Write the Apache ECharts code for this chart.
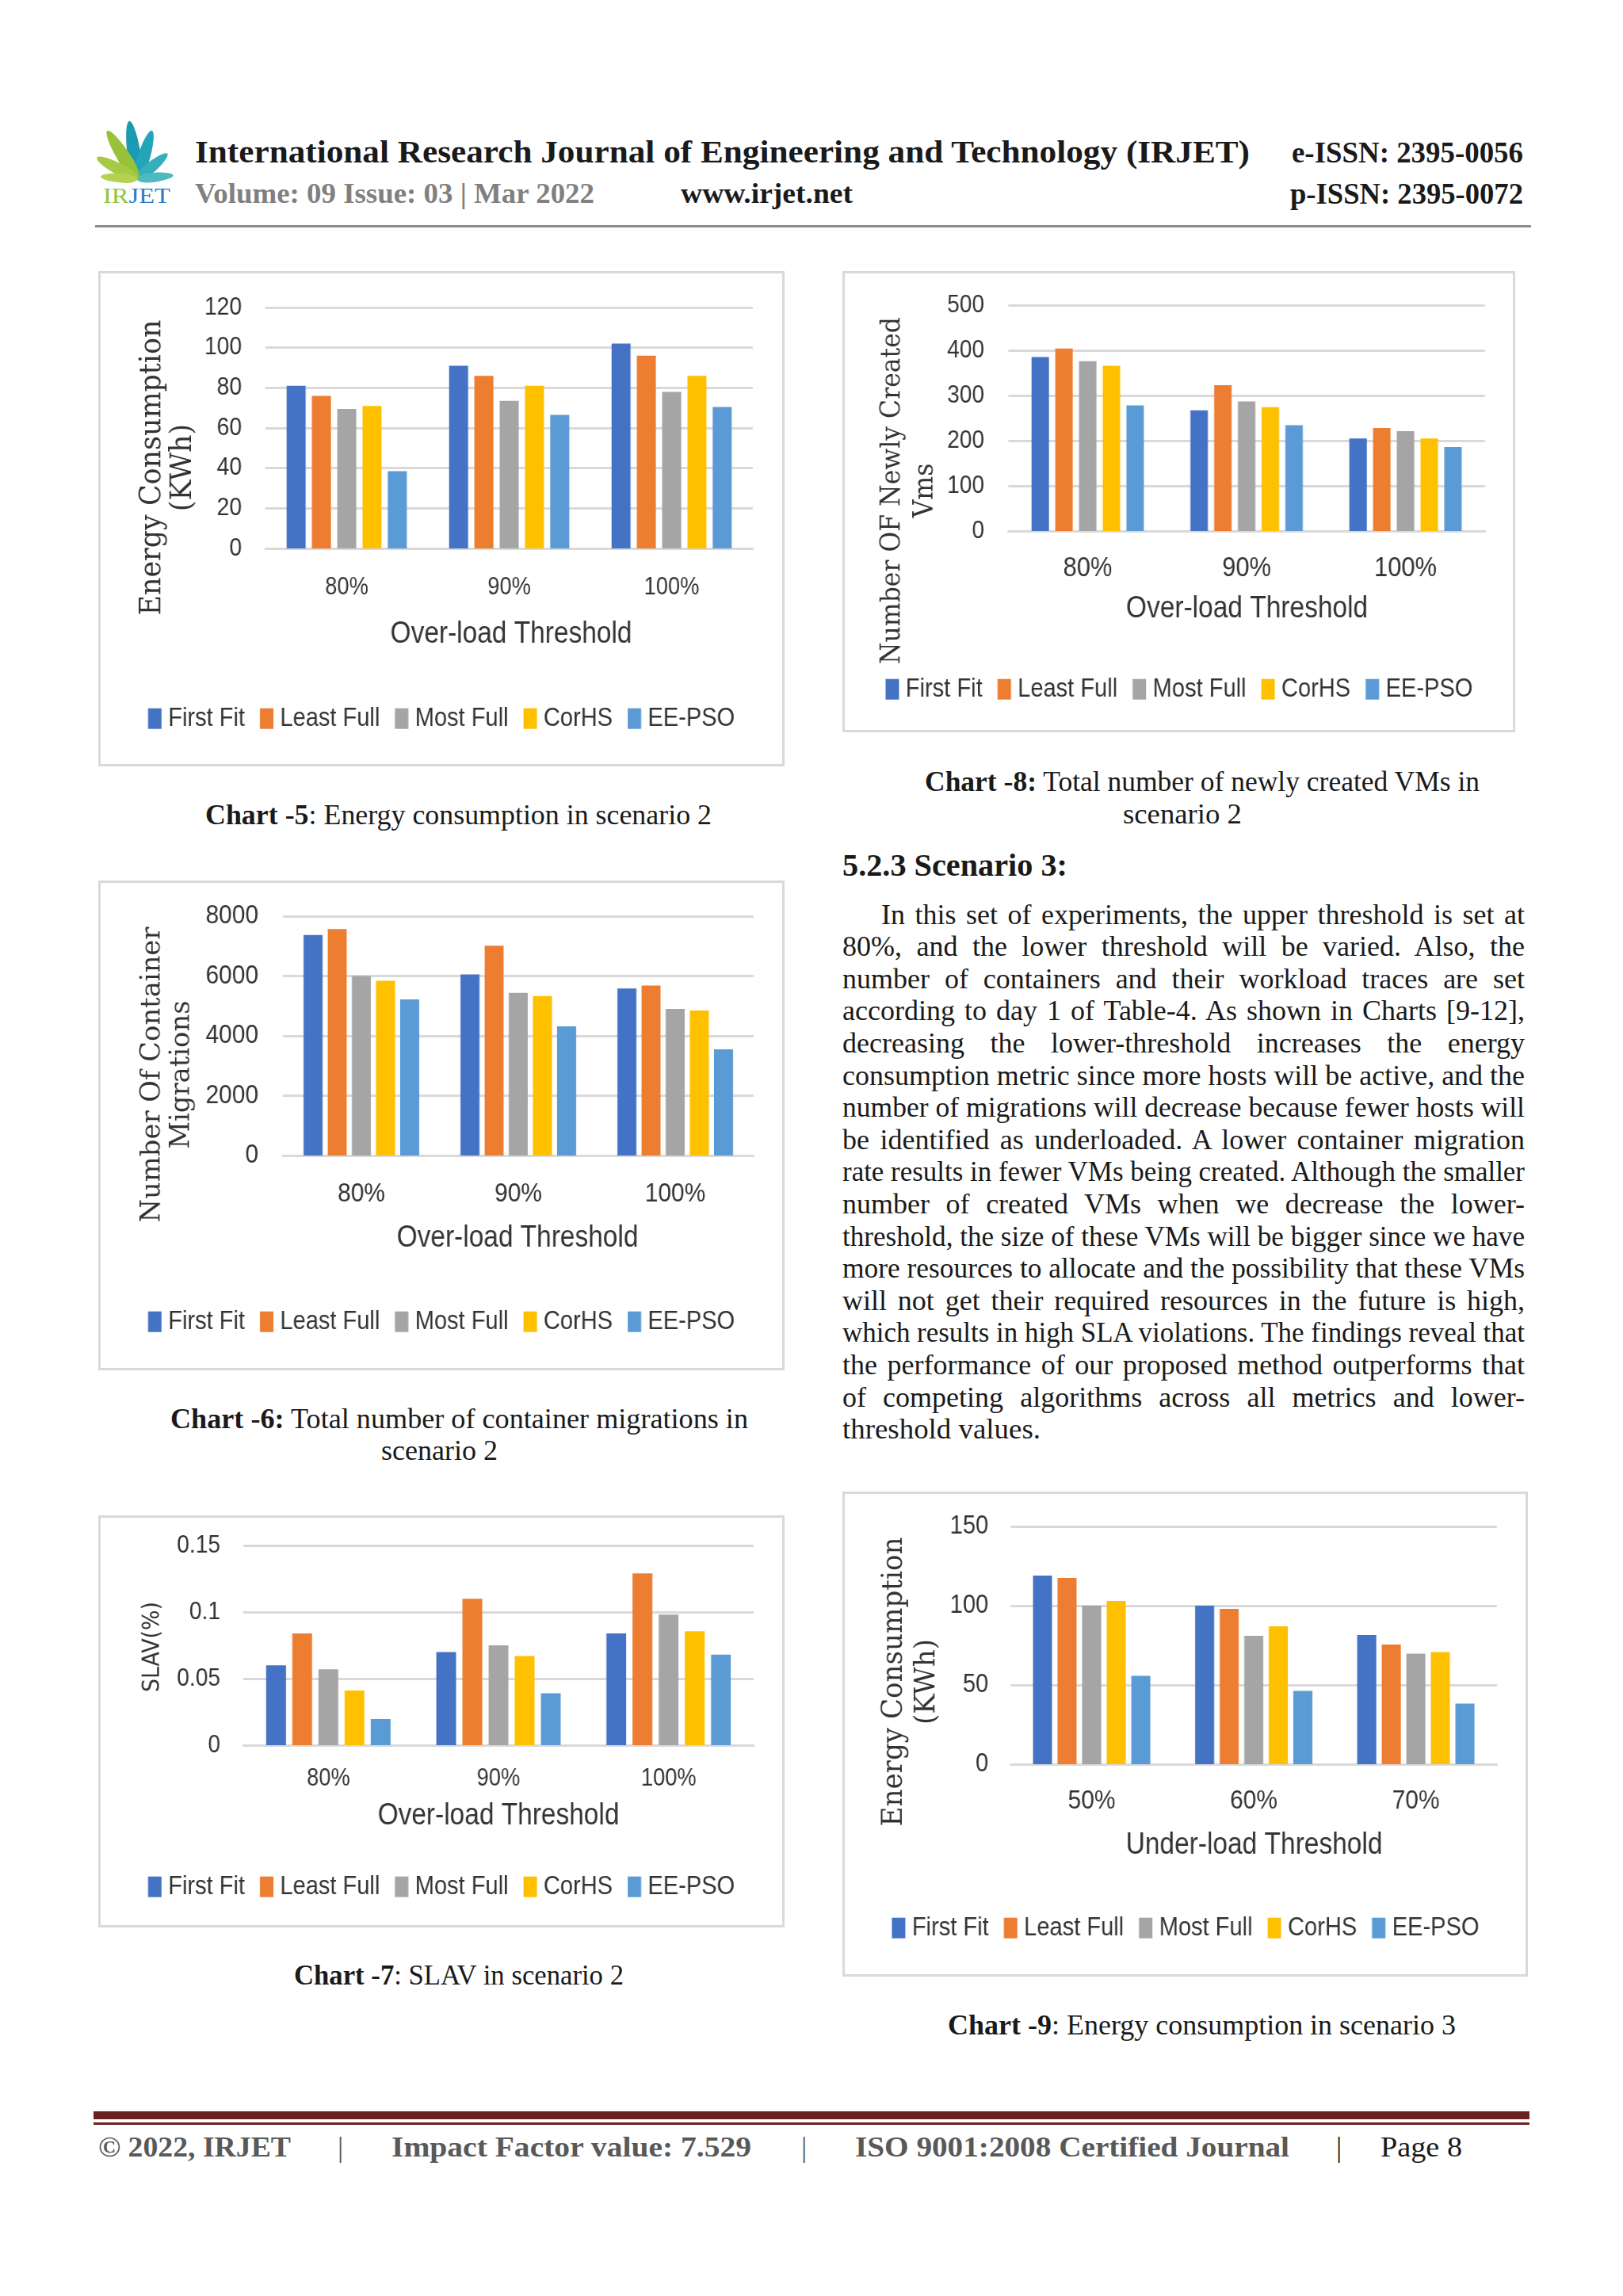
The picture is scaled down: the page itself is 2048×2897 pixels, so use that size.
<!DOCTYPE html>
<html><head><meta charset="utf-8">
<script src="https://cdn.jsdelivr.net/npm/echarts@6/dist/echarts.min.js"></script>
<style>
html,body{margin:0;padding:0;background:#fff;}
#page{position:relative;width:2048px;height:2897px;overflow:hidden;background:#fff;}
.t{position:absolute;white-space:nowrap;font-family:'Liberation Serif','DejaVu Serif',serif;color:#1a1a1a;transform-origin:0 50%;}
.box{position:absolute;border:3px solid #d9d9d9;box-sizing:border-box;pointer-events:none;}
.chart{position:absolute;transform-origin:0 0;}
.leaf{position:absolute;border-radius:50% 50% 50% 50% / 65% 65% 35% 35%;transform-origin:50% 100%;}
</style></head>
<body><div id="page"></div>
<script>
// ---------- data ----------
const seriesNames = ['First Fit', 'Least Full', 'Most Full', 'CorHS', 'EE-PSO'];
const overloadCategories = ['80%', '90%', '100%'];
const underloadCategories = ['50%', '60%', '70%'];
// each inner array: one series (First Fit, Least Full, Most Full, CorHS, EE-PSO) across the 3 categories
const energyScenario2 = [[81, 91, 102], [76, 86, 96], [69.5, 73.5, 78], [71, 81, 86], [38.5, 66.5, 70.5]];
const vmsScenario2 = [[385, 267, 205], [404, 323, 228], [376, 287, 221], [366, 274, 205], [278, 234, 186]];
const migrationsScenario2 = [[7370, 6050, 5580], [7570, 7010, 5680], [6000, 5440, 4900], [5840, 5330, 4850], [5220, 4320, 3550]];
const slavScenario2 = [[0.060, 0.070, 0.084], [0.084, 0.110, 0.129], [0.057, 0.075, 0.098], [0.041, 0.067, 0.0855], [0.0196, 0.039, 0.068]];
const energyScenario3 = [[119, 100, 81.5], [117.5, 98, 75.5], [100, 81, 69.7], [103, 87, 70.7], [55.8, 46.3, 38.3]];
const energyTicks = [0, 120, 20];
const vmsTicks = [0, 500, 100];
const migrationTicks = [0, 8000, 2000];
const slavTicks = [0, 0.15, 0.05];
const energy3Ticks = [0, 150, 50];

const COLORS = ['#4472C4', '#ED7D31', '#A5A5A5', '#FFC000', '#5B9BD5'];
const FONT_N = "'Liberation Sans','Arimo',sans-serif";
const FONT_SERIF = "'DejaVu Serif','Liberation Serif',serif";
const FONT_SANS = "'DejaVu Sans','Liberation Sans',sans-serif";
const TXT = '#333333';
const S = 0.88; // horizontal squeeze of the chart pictures

const PAGE = document.getElementById('page');
const MC = document.createElement('canvas').getContext('2d');
function measure(text, size, family) {
  MC.font = size + 'px ' + family;
  return Math.max.apply(null, text.split('\n').map(function (l) { return MC.measureText(l).width; }));
}

// ---------- page text helper ----------
function T(html, x, cy, size, w, o) {
  o = o || {};
  const d = document.createElement('div');
  d.className = 't';
  d.innerHTML = html;
  const lh = Math.round(size * 1.3);
  d.style.fontSize = size + 'px';
  d.style.lineHeight = lh + 'px';
  d.style.top = (cy - lh / 2) + 'px';
  d.style.left = x + 'px';
  if (o.bold) d.style.fontWeight = 'bold';
  if (o.color) d.style.color = o.color;
  if (o.family) d.style.fontFamily = o.family;
  PAGE.appendChild(d);
  if (w) {
    const nw = d.getBoundingClientRect().width;
    const spaces = (d.textContent.match(/ /g) || []).length;
    if (o.justify && nw < w && spaces > 0) {
      d.style.wordSpacing = ((w - nw) / spaces) + 'px';
    } else {
      d.style.transform = 'scaleX(' + (w / nw) + ')';
    }
  }
  return d;
}
function R(x, y, w, h, c) {
  const d = document.createElement('div');
  d.style.cssText = 'position:absolute;left:' + x + 'px;top:' + y + 'px;width:' + w + 'px;height:' + h + 'px;background:' + c + ';';
  PAGE.appendChild(d);
}

// ---------- header ----------
const leaves = [
  [-8, 74, 17, '#1a9bb2'], [17, 64, 16, '#22a5b7'], [50, 50, 14, '#35b0bb'], [84, 46, 12, '#4dbac0'],
  [-32, 72, 17, '#98c23a'], [-62, 58, 15, '#a6ca44'], [-86, 46, 12, '#b4d150']
];
leaves.forEach(function (l) {
  const d = document.createElement('div');
  d.className = 'leaf';
  d.style.left = (173 - l[2] / 2) + 'px';
  d.style.top = (226 - l[1]) + 'px';
  d.style.width = l[2] + 'px';
  d.style.height = l[1] + 'px';
  d.style.background = l[3];
  d.style.transform = 'rotate(' + l[0] + 'deg)';
  PAGE.appendChild(d);
});
T('<span style="color:#8dc63f">IR</span><span style="color:#2e7bc4">JET</span>', 130, 247, 28, 85, {});

T('International Research Journal of Engineering and Technology (IRJET)', 246, 192, 40, 1331, {bold: true, color: '#1a1a1a'});
T('e-ISSN: 2395-0056', 1630, 192, 38, 292, {bold: true, color: '#1a1a1a'});
T('Volume: 09 Issue: 03 | Mar 2022', 246, 244, 36, 504, {bold: true, color: '#808080'});
T('www.irjet.net', 859, 244, 36, 217, {bold: true, color: '#1a1a1a'});
T('p-ISSN: 2395-0072', 1628, 244, 38, 294, {bold: true, color: '#1a1a1a'});
R(120, 284, 1812, 3, '#8c8c8c');

// ---------- captions ----------
T('<b>Chart -5</b>: Energy consumption in scenario 2', 259, 1029, 35, 639);
T('<b>Chart -8:</b> Total number of newly created VMs in', 1167, 987, 35, 700);
T('scenario 2', 1417, 1028, 35, 150);
T('<b>Chart -6:</b> Total number of container migrations in', 215, 1791, 35, 729);
T('scenario 2', 481, 1831, 35, 147);
T('<b>Chart -7</b>: SLAV in scenario 2', 371, 2493, 35, 416);
T('<b>Chart -9</b>: Energy consumption in scenario 3', 1196, 2556, 35, 641);

// ---------- section text ----------
T('5.2.3 Scenario 3:', 1063, 1091, 39, 284, {bold: true});
const paraLines = [
  'In this set of experiments, the upper threshold is set at',
  '80%, and the lower threshold will be varied. Also, the',
  'number of containers and their workload traces are set',
  'according to day 1 of Table-4. As shown in Charts [9-12],',
  'decreasing the lower-threshold increases the energy',
  'consumption metric since more hosts will be active, and the',
  'number of migrations will decrease because fewer hosts will',
  'be identified as underloaded. A lower container migration',
  'rate results in fewer VMs being created. Although the smaller',
  'number of created VMs when we decrease the lower-',
  'threshold, the size of these VMs will be bigger since we have',
  'more resources to allocate and the possibility that these VMs',
  'will not get their required resources in the future is high,',
  'which results in high SLA violations. The findings reveal that',
  'the performance of our proposed method outperforms that',
  'of competing algorithms across all metrics and lower-',
  'threshold values.'
];
paraLines.forEach(function (s, i) {
  const cy = 1154 + i * 40.6;
  if (i === 0) T(s, 1112, cy, 36, 812, {justify: true});
  else if (i === paraLines.length - 1) T(s, 1063, cy, 36, 250);
  else T(s, 1063, cy, 36, 861, {justify: true});
});

// ---------- footer ----------
R(118, 2664, 1812, 10, '#6b2121');
R(118, 2678, 1812, 3, '#6b2121');
T('© 2022, IRJET', 124, 2709, 36, 243, {bold: true, color: '#595959'});
T('|', 426, 2709, 36, 0, {color: '#595959'});
T('Impact Factor value: 7.529', 494, 2709, 36, 454, {bold: true, color: '#595959'});
T('|', 1011, 2709, 36, 0, {color: '#595959'});
T('ISO 9001:2008 Certified Journal', 1079, 2709, 36, 548, {bold: true, color: '#595959'});
T('|', 1686, 2709, 36, 0, {color: '#1a1a1a'});
T('Page 8', 1742, 2709, 36, 103, {color: '#1a1a1a'});

// ---------- charts ----------
// horizontal values below are page pixels; they are divided by S because the chart canvas is squeezed by S
function makeChart(c) {
  const W = c.box[2] / S, H = c.box[3];
  const el = document.createElement('div');
  el.className = 'chart';
  el.style.left = c.box[0] + 'px'; el.style.top = c.box[1] + 'px';
  el.style.width = W + 'px'; el.style.height = H + 'px';
  el.style.transform = 'scaleX(' + S + ')';
  PAGE.appendChild(el);
  const bx = document.createElement('div');
  bx.className = 'box';
  bx.style.left = c.box[0] + 'px'; bx.style.top = c.box[1] + 'px';
  bx.style.width = c.box[2] + 'px'; bx.style.height = c.box[3] + 'px';
  PAGE.appendChild(bx);
  const ch = echarts.init(el, null, {renderer: 'canvas', width: W, height: H});
  const legendFont = 33;
  const yLen = c.yName.len / measure(c.yName.text, c.yName.size, c.yName.family);
  ch.setOption({
    animation: false,
    color: COLORS,
    grid: {left: c.grid[0] / S, top: c.grid[1], width: c.grid[2] / S, height: c.grid[3], containLabel: false, outerBoundsMode: 'none'},
    legend: {
      data: seriesNames, left: 'center', top: c.legendY - legendFont * 0.6, padding: 0,
      icon: 'rect', itemWidth: 17 / S, itemHeight: 26, itemGap: 19 / S,
      textStyle: {fontFamily: FONT_N, fontSize: legendFont, color: TXT, padding: [0, 0, 0, 4 / S]}
    },
    xAxis: {
      type: 'category', data: c.cats,
      axisLine: {lineStyle: {color: '#d9d9d9', width: 3}},
      axisTick: {show: false},
      axisLabel: {interval: 0, margin: c.xLabel[1], fontSize: c.xLabel[0], fontFamily: FONT_N, color: TXT}
    },
    yAxis: {
      type: 'value', min: c.ticks[0], max: c.ticks[1], interval: c.ticks[2],
      axisLine: {show: false}, axisTick: {show: false},
      splitLine: {lineStyle: {color: '#d9d9d9', width: 3}},
      axisLabel: {margin: c.yLabel[1] / S, fontSize: c.yLabel[0], fontFamily: FONT_N, color: TXT,
        formatter: function (v) { return String(+v.toFixed(4)); }}
    },
    series: seriesNames.map(function (n, i) {
      return {type: 'bar', name: n, data: c.values[i], barWidth: c.bar[0] / S, barGap: c.bar[1]};
    }),
    graphic: [
      {type: 'text', x: c.xName.x / S, y: c.xName.y, silent: true,
        style: {text: c.xName.text, fontSize: c.xName.size, fontFamily: FONT_N, fill: TXT,
          align: 'center', verticalAlign: 'middle', textAlign: 'center', textVerticalAlign: 'middle'}},
      {type: 'text', x: c.yName.x / S, y: c.yName.y, rotation: Math.PI / 2, scaleX: yLen, scaleY: 1, silent: true,
        style: {text: c.yName.text, fontSize: c.yName.size, fontFamily: c.yName.family, fill: TXT,
          lineHeight: c.yName.lh / S, align: 'center', verticalAlign: 'middle', textAlign: 'center', textVerticalAlign: 'middle'}}
    ]
  });
}

makeChart({
  box: [124, 342, 866, 625], grid: [211, 46, 615, 304], cats: overloadCategories, values: energyScenario2,
  ticks: energyTicks, yLabel: [32, 30], xLabel: [31, 34], bar: [24, '33%'],
  xName: {text: 'Over-load Threshold', x: 521, y: 459, size: 38},
  yName: {text: 'Energy Consumption\n(KWh)', x: 88, y: 248, size: 42, lh: 39, len: 373, family: FONT_SERIF},
  legendY: 568
});
makeChart({
  box: [1063, 342, 849, 582], grid: [209, 43, 601, 285], cats: overloadCategories, values: vmsScenario2,
  ticks: vmsTicks, yLabel: [32, 30], xLabel: [35, 30], bar: [22, '36%'],
  xName: {text: 'Over-load Threshold', x: 510, y: 427, size: 38},
  yName: {text: 'Number OF Newly Created\nVms', x: 84, y: 277, size: 39, lh: 41, len: 438, family: FONT_SERIF},
  legendY: 531
});
makeChart({
  box: [124, 1111, 866, 618], grid: [233, 45, 594, 302], cats: overloadCategories, values: migrationsScenario2,
  ticks: migrationTicks, yLabel: [34, 31], xLabel: [34, 32], bar: [24, '27%'],
  xName: {text: 'Over-load Threshold', x: 529, y: 452, size: 38},
  yName: {text: 'Number Of Container\nMigrations', x: 87, y: 245, size: 40, lh: 37, len: 373, family: FONT_SERIF},
  legendY: 560
});
makeChart({
  box: [124, 1912, 866, 520], grid: [183, 38, 644, 252], cats: overloadCategories, values: slavScenario2,
  ticks: slavTicks, yLabel: [32, 29], xLabel: [31, 27], bar: [25, '32%'],
  xName: {text: 'Over-load Threshold', x: 505, y: 380, size: 38},
  yName: {text: 'SLAV(%)', x: 69, y: 166, size: 34, lh: 30, len: 114, family: FONT_SANS},
  legendY: 472
});
makeChart({
  box: [1063, 1882, 865, 612], grid: [212, 44, 613, 300], cats: underloadCategories, values: energyScenario3,
  ticks: energy3Ticks, yLabel: [33, 28], xLabel: [34, 30], bar: [24, '29%'],
  xName: {text: 'Under-load Threshold', x: 519, y: 447, size: 38},
  yName: {text: 'Energy Consumption\n(KWh)', x: 86, y: 240, size: 41, lh: 41, len: 365, family: FONT_SERIF},
  legendY: 554
});
</script>
</body></html>
